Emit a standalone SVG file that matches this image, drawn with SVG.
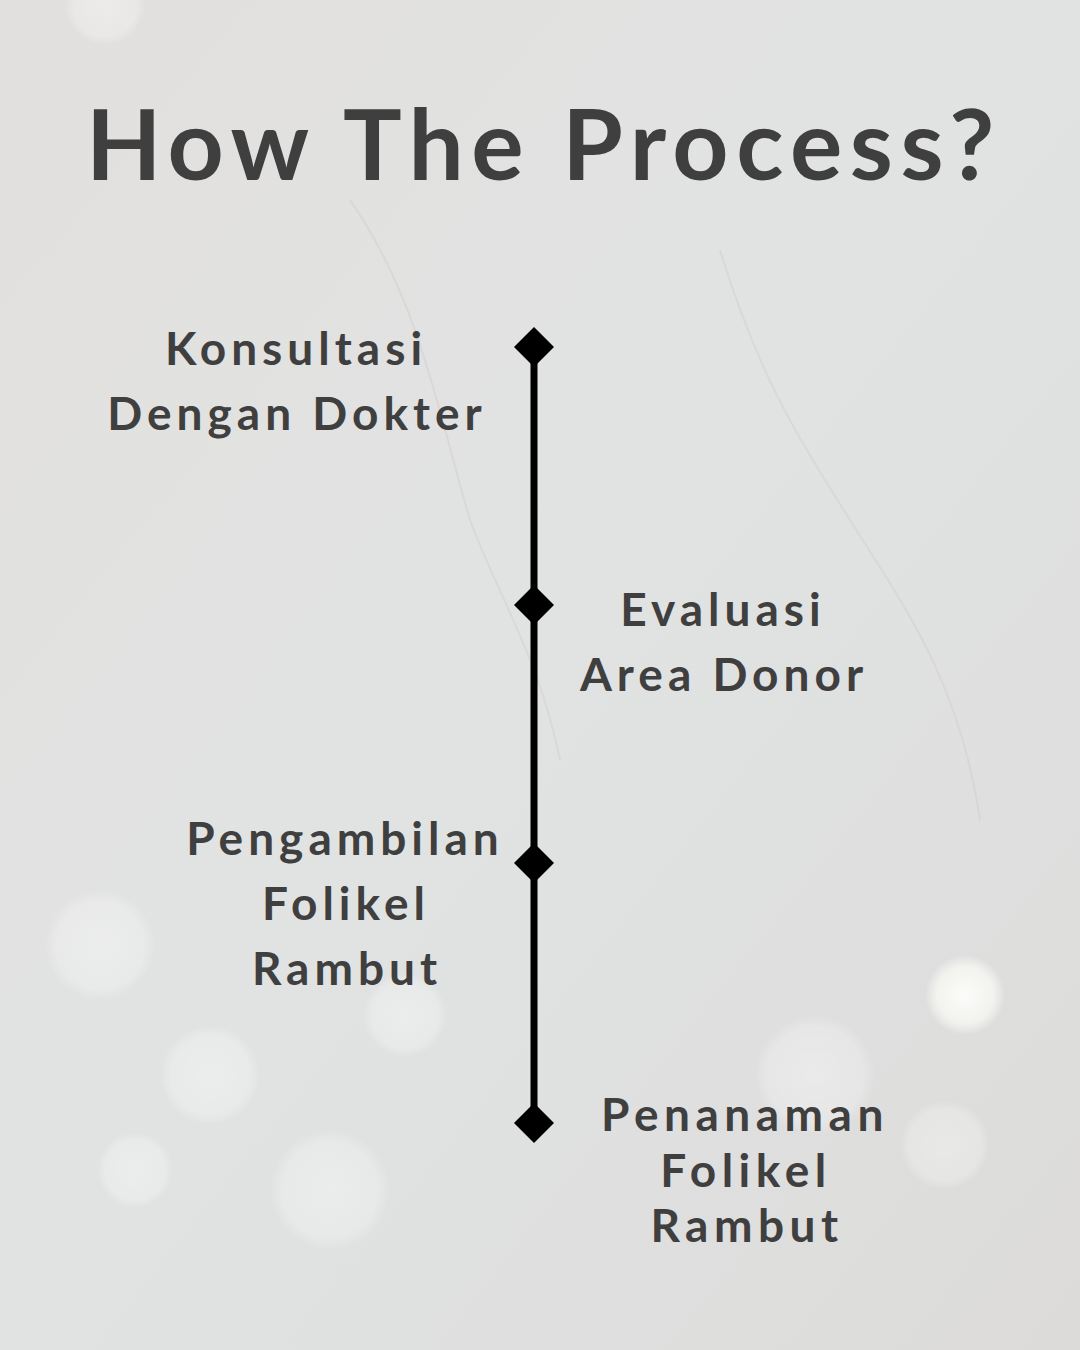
<svg xmlns="http://www.w3.org/2000/svg" width="1080" height="1350" viewBox="0 0 1080 1350">
<defs>
<linearGradient id="bg" x1="0" y1="0" x2="1" y2="1">
<stop offset="0" stop-color="#e2e0de"/>
<stop offset="0.5" stop-color="#e1e3e3"/>
<stop offset="1" stop-color="#dcdbda"/>
</linearGradient>
<radialGradient id="bok" cx="0.5" cy="0.5" r="0.5">
<stop offset="0" stop-color="#ffffff" stop-opacity="0.35"/>
<stop offset="0.8" stop-color="#ffffff" stop-opacity="0.25"/>
<stop offset="1" stop-color="#ffffff" stop-opacity="0"/>
</radialGradient>
<radialGradient id="bokb" cx="0.5" cy="0.5" r="0.5">
<stop offset="0" stop-color="#ffffff" stop-opacity="0.9"/>
<stop offset="0.7" stop-color="#fbfbf5" stop-opacity="0.7"/>
<stop offset="1" stop-color="#ffffff" stop-opacity="0"/>
</radialGradient>
<style>
.t{font-family:"Lato","Liberation Sans",sans-serif;font-weight:700;fill:#3f3f3f;text-anchor:middle;}
.lab{font-size:46px;letter-spacing:5px;}
.lab4{font-size:46px;letter-spacing:5.5px;}
.title{font-size:98px;letter-spacing:7.5px;}
.dia{fill:#000000;}
.vein{fill:none;stroke:#d6d2cc;stroke-width:2;opacity:0.6;}
</style>
</defs>
<rect id="background" x="0" y="0" width="1080" height="1350" fill="url(#bg)"/>
<g id="texture">
<path class="vein" d="M350 200 C420 300 440 420 470 520 C500 600 540 660 560 760"/>
<path class="vein" d="M720 250 C760 380 800 440 850 520 C900 600 960 680 980 820"/>
</g>
<g id="bokeh">
<circle cx="100" cy="945" r="55" fill="url(#bok)"/>
<circle cx="210" cy="1075" r="50" fill="url(#bok)"/>
<circle cx="135" cy="1170" r="38" fill="url(#bok)"/>
<circle cx="330" cy="1190" r="60" fill="url(#bok)"/>
<circle cx="405" cy="1015" r="42" fill="url(#bok)"/>
<circle cx="815" cy="1075" r="60" fill="url(#bok)"/>
<circle cx="945" cy="1145" r="45" fill="url(#bok)"/>
<circle cx="965" cy="995" r="40" fill="url(#bokb)"/>
<circle cx="105" cy="5" r="40" fill="url(#bok)"/>
</g>
<g id="connectors">
<line x1="534" y1="347" x2="534" y2="1123" stroke="#000000" stroke-width="7"/>
</g>
<g id="title"><text class="t title" x="544" y="180">How The Process?</text></g>
<g id="node1">
<polygon class="dia" points="534,327 554,347 534,367 514,347"/>
<text class="t lab" x="296" y="365">Konsultasi</text>
<text class="t lab" x="297" y="430">Dengan Dokter</text>
</g>
<g id="node2">
<polygon class="dia" points="534,585 554,605 534,625 514,605"/>
<text class="t lab" x="723" y="626">Evaluasi</text>
<text class="t lab" x="724" y="691">Area Donor</text>
</g>
<g id="node3">
<polygon class="dia" points="534,843 554,863 534,883 514,863"/>
<text class="t lab" x="345" y="855">Pengambilan</text>
<text class="t lab" x="346" y="920">Folikel</text>
<text class="t lab" x="347" y="985">Rambut</text>
</g>
<g id="node4">
<polygon class="dia" points="534,1103 554,1123 534,1143 514,1123"/>
<text class="t lab4" x="745" y="1131">Penanaman</text>
<text class="t lab4" x="746" y="1187">Folikel</text>
<text class="t lab4" x="747" y="1242">Rambut</text>
</g>
</svg>
